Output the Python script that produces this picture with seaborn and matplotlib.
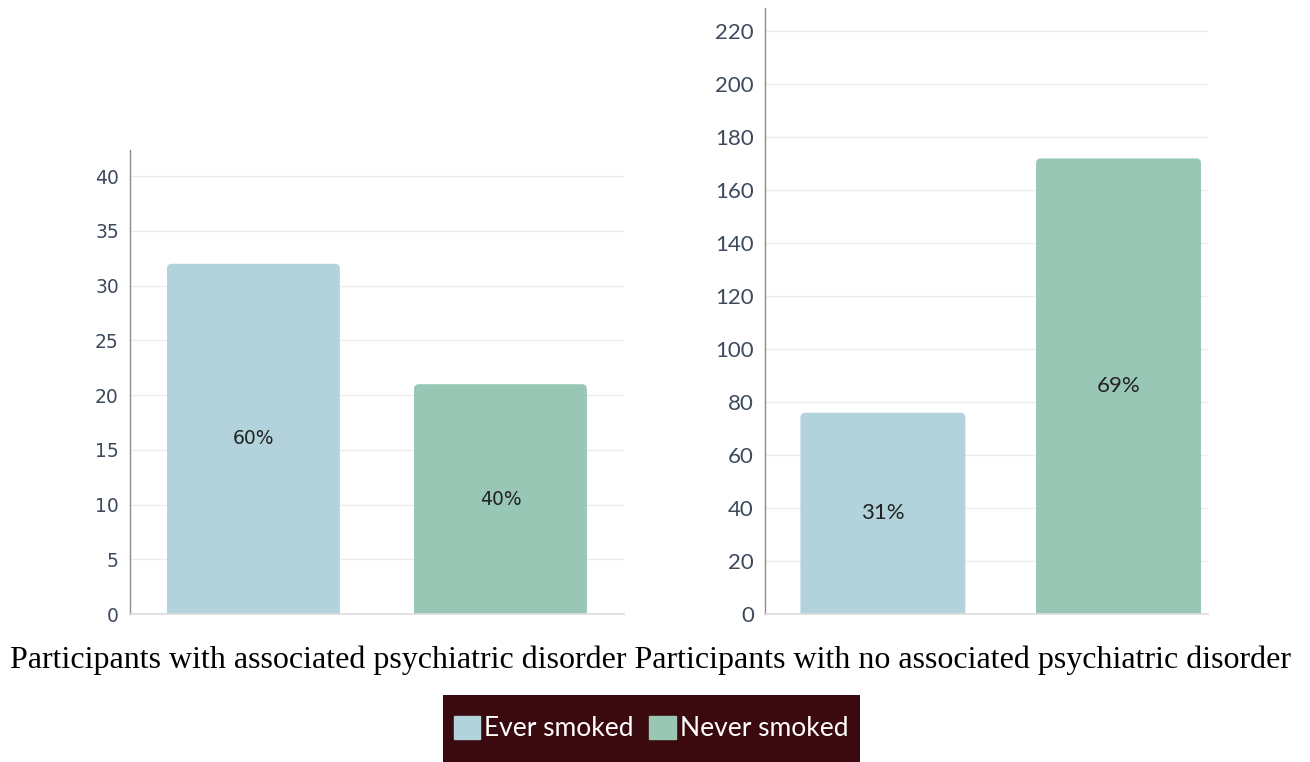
import matplotlib
matplotlib.use("Agg")
import matplotlib.pyplot as plt
import seaborn as sns
import pandas as pd
from matplotlib.patches import Patch, FancyBboxPatch, Rectangle

# Smoking status counts per group
statuses = ["Ever smoked", "Never smoked"]
with_disorder = [32, 21]
without_disorder = [76, 172]
with_disorder_pct = ["60%", "40%"]
without_disorder_pct = ["31%", "69%"]
group_titles = ["Participants with associated psychiatric disorder",
                "Participants with no associated psychiatric disorder"]
colors = ["#b2d3dc", "#99c7b6"]

sns.set_theme(style="white")
plt.rcParams["font.family"] = ["Lato", "DejaVu Sans"]

fig = plt.figure(figsize=(13.1, 7.62), dpi=100)
ax_left = fig.add_axes([0.0992, 0.1942, 0.3771, 0.609])
ax_right = fig.add_axes([0.584, 0.1942, 0.3382, 0.795])

tick_color = "#3d4a5c"


def round_bar_tops(ax, radius_px=5):
    """Swap each bar rectangle for one with rounded top corners."""
    inv = ax.transData.inverted()
    x0, y0 = inv.transform((0, 0))
    x1, y1 = inv.transform((radius_px, radius_px))
    rx, ry = abs(x1 - x0), abs(y1 - y0)
    for bar in list(ax.patches):
        x, w, h = bar.get_x(), bar.get_width(), bar.get_height()
        fc = bar.get_facecolor()
        bar.remove()
        # start below the baseline so the lower corners are clipped away
        fancy = FancyBboxPatch((x, -2 * ry), w, h + 2 * ry,
                               boxstyle=f"round,pad=0,rounding_size={rx}",
                               mutation_aspect=ry / rx, facecolor=fc,
                               edgecolor="none", zorder=2)
        ax.add_patch(fancy)


def draw_panel(ax, counts, pcts, ylim, yticks, xlim, tick_size, label_size,
               family):
    df = pd.DataFrame({"status": statuses, "count": counts})
    sns.barplot(data=df, x="status", y="count", hue="status",
                palette=colors, width=0.7, ax=ax, legend=False,
                saturation=1)
    ax.set_ylim(*ylim)
    ax.set_xlim(*xlim)
    ax.set_yticks(yticks)
    ax.set_yticklabels([str(t) for t in yticks])
    for lbl in ax.get_yticklabels():
        lbl.set_fontfamily(family)
        lbl.set_fontsize(tick_size)
    ax.set_xticks([0.5])
    ax.set_xticklabels([""])
    ax.set_xlabel("")
    ax.set_ylabel("")
    ax.grid(axis="y", color="#ececec", linewidth=1)
    ax.set_axisbelow(True)
    for side in ("top", "right"):
        ax.spines[side].set_visible(False)
    ax.spines["left"].set_color("#8a8a8a")
    ax.spines["left"].set_linewidth(1)
    ax.spines["left"].set_zorder(3)
    ax.spines["bottom"].set_color("#dddddd")
    ax.spines["bottom"].set_zorder(3)
    ax.tick_params(axis="y", length=4, color="#8a8a8a",
                   labelcolor=tick_color, pad=4)
    ax.tick_params(axis="x", length=5, color="#cccccc", direction="out")
    round_bar_tops(ax)
    for i, (c, p) in enumerate(zip(counts, pcts)):
        ax.text(i, c / 2, p, ha="center", va="center", fontsize=label_size,
                color="#222222", family=family, zorder=4)


draw_panel(ax_left, with_disorder, with_disorder_pct, (0, 42.4),
           list(range(0, 41, 5)), (-0.5, 1.5), 13.5, 13.5, ["DejaVu Sans"])
draw_panel(ax_right, without_disorder, without_disorder_pct, (0, 228.7),
           list(range(0, 221, 20)), (-0.5, 1.38), 16, 16, ["Lato"])

fig.text(0.4965, 0.133, " ".join(group_titles), ha="center", va="center",
         fontsize=23, family=["Liberation Serif"], color="black")

# dark backdrop for the legend
fig.add_artist(Rectangle((0.3382, 0.0), 0.3183, 0.0879,
                         transform=fig.transFigure, facecolor="#3b0a0e",
                         edgecolor="none", zorder=1))

handles = [Patch(facecolor=c, edgecolor=c) for c in colors]
leg = fig.legend(handles, statuses, loc="center", bbox_to_anchor=(0.497, 0.044),
                 ncol=2, frameon=False,
                 labelcolor="white", handlelength=1.0, handleheight=1.0,
                 handletextpad=0.15, columnspacing=0.6, borderpad=0.3,
                 prop={"family": ["Lato"], "size": 19})
leg.set_zorder(2)

fig.savefig("out.png", dpi=100)
